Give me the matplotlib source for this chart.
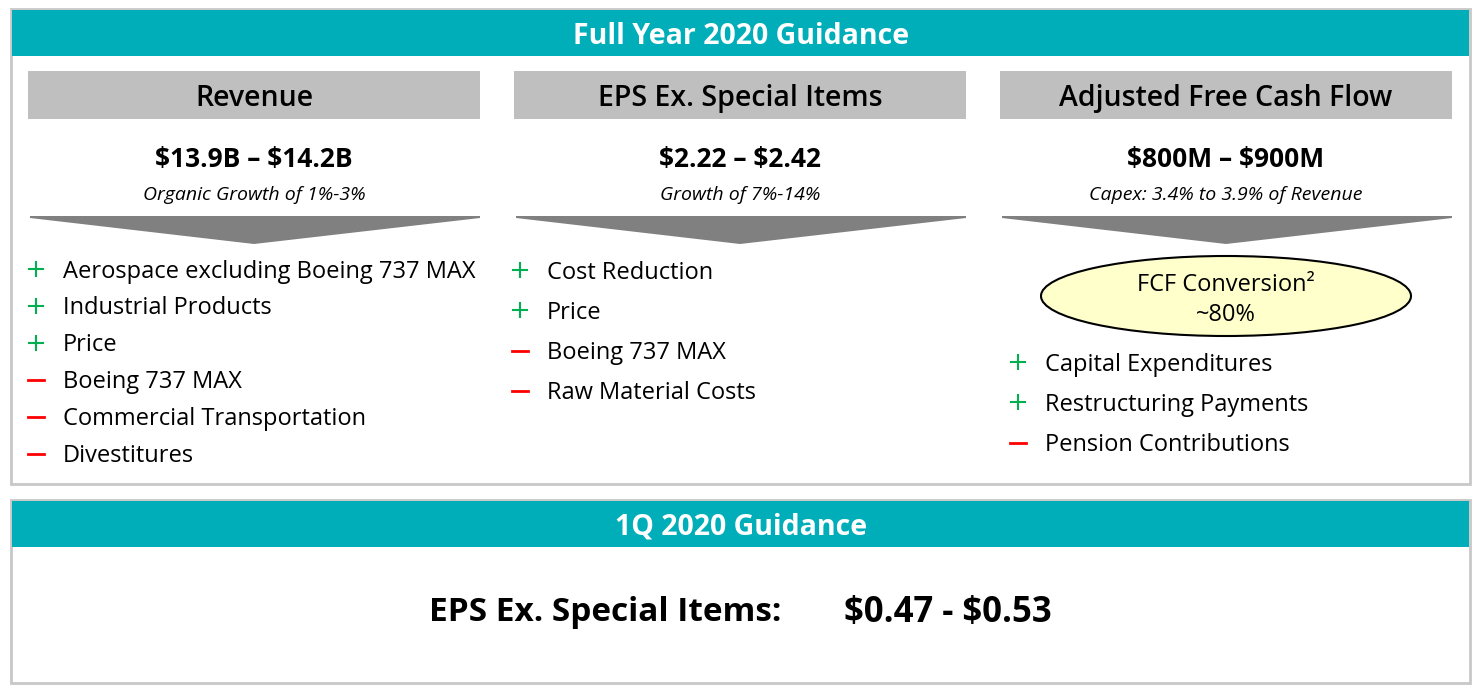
import matplotlib
matplotlib.use("Agg")
import matplotlib.pyplot as plt
from matplotlib.patches import Rectangle, Polygon, Ellipse

plt.rcParams['font.family'] = ['Open Sans', 'DejaVu Sans']
plt.rcParams['text.parse_math'] = False

# slide content
title_top = "Full Year 2020 Guidance"
title_bottom = "1Q 2020 Guidance"
col_titles = ["Revenue", "EPS Ex. Special Items", "Adjusted Free Cash Flow"]
col_values = ["$13.9B – $14.2B", "$2.22 – $2.42", "$800M – $900M"]
col_notes = ["Organic Growth of 1%-3%", "Growth of 7%-14%",
             "Capex: 3.4% to 3.9% of Revenue"]
rev_items = ["Aerospace excluding Boeing 737 MAX", "Industrial Products", "Price",
             "Boeing 737 MAX", "Commercial Transportation", "Divestitures"]
rev_signs = ["+", "+", "+", "-", "-", "-"]
eps_items = ["Cost Reduction", "Price", "Boeing 737 MAX", "Raw Material Costs"]
eps_signs = ["+", "+", "-", "-"]
fcf_items = ["Capital Expenditures", "Restructuring Payments", "Pension Contributions"]
fcf_signs = ["+", "+", "-"]
fcf_conv = "~80%"
q1_label = "EPS Ex. Special Items:"
q1_value = "$0.47 - $0.53"

TEAL = "#00AEB9"
GRAY = "#BFBFBF"
DARK = "#808080"
GREEN = "#00B050"
RED = "#FF0000"
DY = 2.5  # text baseline nudge

W, H = 1481, 691
fig = plt.figure(figsize=(W / 100, H / 100), dpi=100)
ax = fig.add_axes([0, 0, 1, 1])
ax.set_xlim(0, W)
ax.set_ylim(H, 0)
ax.axis("off")

# outer boxes
for y0, y1, hdr, ttl in [(9, 484, 56, title_top), (500, 683, 547, title_bottom)]:
    ax.add_patch(Rectangle((11, y0), 1459, y1 - y0, fc="white", ec="#C8C8C8", lw=2))
    ax.add_patch(Rectangle((12, y0 + 1), 1457, hdr - y0 - 1, fc=TEAL, ec="none"))
    ax.text(741, (y0 + hdr) / 2 + 1 + DY, ttl, color="white", fontsize=20.5,
            fontweight="bold", ha="center", va="center")

cols_x = [28, 514, 1000]
col_w = 452
for i, x0 in enumerate(cols_x):
    cx = x0 + col_w / 2
    ax.add_patch(Rectangle((x0, 71), col_w, 48, fc=GRAY, ec="none"))
    ax.text(cx, 96 + DY, col_titles[i], fontsize=20.5, fontweight="semibold",
            ha="center", va="center")
    ax.text(cx, 157 + DY, col_values[i], fontsize=19, fontweight="bold",
            ha="center", va="center")
    ax.text(cx, 192 + DY, col_notes[i], fontsize=14, style="italic",
            ha="center", va="center")
    ax.add_patch(Polygon([(x0 + 2, 216), (x0 + col_w, 216), (x0 + col_w, 218),
                          (cx, 244), (x0 + 2, 218)], closed=True, fc=DARK, ec="none"))


def bullets(items, signs, sx, tx, y0, dy):
    for k, (it, sg) in enumerate(zip(items, signs)):
        y = y0 + k * dy
        if sg == "+":
            ax.plot([sx - 7, sx + 7], [y, y], color=GREEN, lw=1.5)
            ax.plot([sx, sx], [y - 7, y + 7], color=GREEN, lw=1.5)
        else:
            ax.plot([sx - 8, sx + 8], [y + 1, y + 1], color=RED, lw=2)
        ax.text(tx, y + DY, it, fontsize=17, ha="left", va="center")


bullets(rev_items, rev_signs, 36, 63, 269, 36.8)
bullets(eps_items, eps_signs, 520, 547, 270, 40)
bullets(fcf_items, fcf_signs, 1018, 1045, 362, 40)

# FCF conversion callout
ax.add_patch(Ellipse((1226, 296), 370, 80, fc="#FFFFCC", ec="black", lw=1.5))
ax.text(1226, 282 + DY, "FCF Conversion²", fontsize=17, ha="center", va="center")
ax.text(1226, 312 + DY, fcf_conv, fontsize=17, ha="center", va="center")

ax.text(605, 610 + DY, q1_label, fontsize=24, fontweight="bold", ha="center", va="center")
ax.text(948, 610 + DY, q1_value, fontsize=25, fontweight="bold", ha="center", va="center")

fig.savefig("out.png", dpi=100)
